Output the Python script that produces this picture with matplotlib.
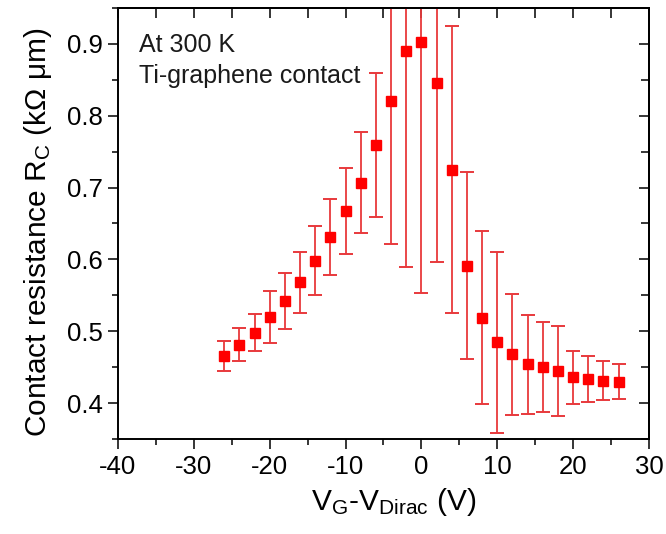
import matplotlib
matplotlib.use("Agg")
import matplotlib.pyplot as plt
from matplotlib.ticker import MultipleLocator

plt.rcParams['font.family'] = ['Liberation Sans', 'DejaVu Sans']
plt.rcParams['mathtext.fontset'] = 'custom'
plt.rcParams['mathtext.rm'] = 'Liberation Sans'
plt.rcParams['mathtext.it'] = 'Liberation Sans:italic'
plt.rcParams['axes.unicode_minus'] = False

# Data
gate_voltage = [-26, -24, -22, -20, -18, -16, -14, -12, -10, -8, -6, -4, -2, 0,
                2, 4, 6, 8, 10, 12, 14, 16, 18, 20, 22, 24, 26]
contact_resistance = [0.465, 0.481, 0.498, 0.520, 0.542, 0.568, 0.598, 0.631, 0.667,
                      0.707, 0.759, 0.821, 0.890, 0.903, 0.846, 0.725, 0.591, 0.519,
                      0.485, 0.468, 0.454, 0.450, 0.445, 0.436, 0.433, 0.431, 0.430]
resistance_err = [0.021, 0.023, 0.026, 0.036, 0.039, 0.042, 0.048, 0.053, 0.060,
                  0.070, 0.100, 0.200, 0.300, 0.350, 0.250, 0.200, 0.130, 0.120,
                  0.126, 0.084, 0.069, 0.063, 0.063, 0.037, 0.032, 0.027, 0.025]
annotation_lines = ["At 300 K", "Ti-graphene contact"]

fig = plt.figure(figsize=(6.66, 5.34), dpi=100)
ax = fig.add_axes([118/666, 1-439/534, 531/666, 431/534])

ax.errorbar(gate_voltage, contact_resistance, yerr=resistance_err,
            fmt='s', color='#ff0000', ecolor='#e8393c', elinewidth=1.3,
            capsize=4.8, capthick=1.4, markersize=6.8)

ax.set_xlim(-40, 30)
ax.set_ylim(0.35, 0.95)
ax.xaxis.set_major_locator(MultipleLocator(10))
ax.xaxis.set_minor_locator(MultipleLocator(5))
ax.yaxis.set_minor_locator(MultipleLocator(0.05))
ax.set_yticks([0.4, 0.5, 0.6, 0.7, 0.8, 0.9])
ax.set_yticklabels(['0.4', '0.5', '0.6', '0.7', '0.8', '0.9'])

for s in ax.spines.values():
    s.set_linewidth(1.4)

ax.tick_params(which='major', direction='out', length=7.2, width=1.1,
               labelsize=18.5, pad=4)
ax.tick_params(which='minor', direction='out', length=4.3, width=1.1)

# mirrored ticks pointing inward on top and right
top = ax.secondary_xaxis('top')
top.xaxis.set_major_locator(MultipleLocator(10))
top.xaxis.set_minor_locator(MultipleLocator(5))
top.tick_params(which='major', direction='in', length=7, width=1.1, labeltop=False)
top.tick_params(which='minor', direction='in', length=7, width=1.1)
top.spines['top'].set_linewidth(1.4)

right = ax.secondary_yaxis('right')
right.yaxis.set_major_locator(MultipleLocator(0.1))
right.yaxis.set_minor_locator(MultipleLocator(0.05))
right.tick_params(which='major', direction='in', length=7, width=1.1, labelright=False)
right.tick_params(which='minor', direction='in', length=6, width=1.1)
right.spines['right'].set_linewidth(1.4)

ax.set_xlabel(r'V$_\mathrm{G}$-V$_\mathrm{Dirac}$ (V)', fontsize=21.5, labelpad=5)
ax.set_ylabel('Contact resistance R$_\\mathrm{C}$ (kΩ μm)', fontsize=21.5, labelpad=9)
ax.xaxis.label.set_x(0.52)
ax.yaxis.label.set_y(0.48)

ax.text(0.04, 0.897, annotation_lines[0], transform=ax.transAxes,
        fontsize=18, va='baseline', ha='left', color='#1a1a1a')
ax.text(0.04, 0.825, annotation_lines[1], transform=ax.transAxes,
        fontsize=18, va='baseline', ha='left', color='#1a1a1a')

fig.savefig('out.png', dpi=100)
